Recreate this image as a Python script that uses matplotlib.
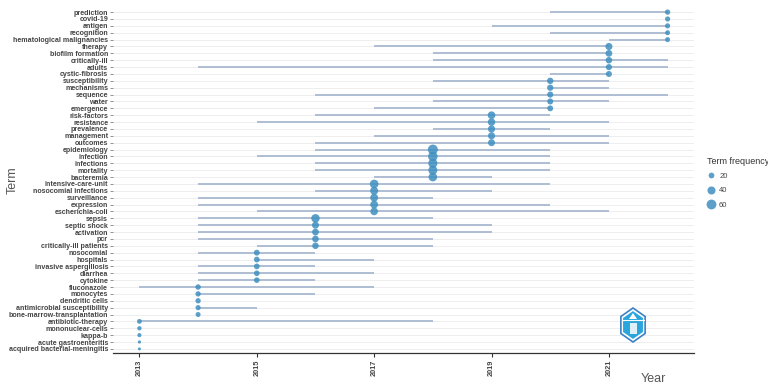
import numpy as np
import matplotlib.pyplot as plt
from matplotlib.lines import Line2D
from matplotlib.patches import Polygon

plt.rcParams['font.family'] = ['Liberation Sans', 'DejaVu Sans']

# terms listed top to bottom, with first quartile / median / third quartile year and frequency
terms = ['prediction', 'covid-19', 'antigen', 'recognition', 'hematological malignancies',
         'therapy', 'biofilm formation', 'critically-ill', 'adults', 'cystic-fibrosis',
         'susceptibility', 'mechanisms', 'sequence', 'water', 'emergence',
         'risk-factors', 'resistance', 'prevalence', 'management', 'outcomes',
         'epidemiology', 'infection', 'infections', 'mortality', 'bacteremia',
         'intensive-care-unit', 'nosocomial infections', 'surveillance', 'expression', 'escherichia-coli',
         'sepsis', 'septic shock', 'activation', 'pcr', 'critically-ill patients',
         'nosocomial', 'hospitals', 'invasive aspergillosis', 'diarrhea', 'cytokine',
         'fluconazole', 'monocytes', 'dendritic cells', 'antimicrobial susceptibility', 'bone-marrow-transplantation',
         'antibiotic-therapy', 'mononuclear-cells', 'kappa-b', 'acute gastroenteritis', 'acquired bacterial-meningitis']
year_q1 = [2020, 2022, 2019, 2020, 2021,
           2017, 2018, 2018, 2014, 2020,
           2018, 2020, 2016, 2018, 2017,
           2016, 2015, 2018, 2017, 2016,
           2016, 2015, 2016, 2016, 2017,
           2014, 2016, 2014, 2014, 2015,
           2014, 2014, 2014, 2014, 2015,
           2014, 2015, 2014, 2014, 2014,
           2013, 2014, 2014, 2014, 2014,
           2013, 2013, 2013, 2013, 2013]
year_med = [2022] * 5 + [2021] * 5 + [2020] * 5 + [2019] * 5 + [2018] * 5 + \
           [2017] * 5 + [2016] * 5 + [2015] * 5 + [2014] * 5 + [2013] * 5
year_q3 = [2022, 2022, 2022, 2022, 2022,
           2021, 2021, 2022, 2022, 2021,
           2021, 2021, 2022, 2021, 2020,
           2020, 2021, 2020, 2021, 2021,
           2020, 2020, 2020, 2020, 2019,
           2020, 2019, 2018, 2020, 2021,
           2018, 2019, 2019, 2018, 2018,
           2016, 2017, 2016, 2017, 2016,
           2017, 2016, 2014, 2015, 2014,
           2018, 2013, 2013, 2013, 2013]
freq = [17, 16, 16, 15, 15,
        31, 28, 26, 23, 22,
        25, 24, 23, 22, 21,
        36, 34, 32, 31, 30,
        62, 56, 52, 50, 46,
        46, 40, 38, 37, 36,
        44, 30, 28, 27, 26,
        21, 20, 20, 19, 19,
        18, 17, 17, 16, 15,
        14, 11, 10, 6, 5]
legend_freq = [20, 40, 60]
year_ticks = [2013, 2015, 2017, 2019, 2021]

fmin, fmax = min(freq), max(freq)


def marker_area(f):
    # area scaled size, diameter about 3 px .. 10 px
    d_px = np.sqrt(9 + 91 * (np.asarray(f, dtype=float) - fmin) / (fmax - fmin))
    return (d_px * 0.72) ** 2


n = len(terms)
ypos = np.arange(n)[::-1]

fig = plt.figure(figsize=(7.68, 3.85), dpi=100)
ax = fig.add_axes([113 / 768, 1 - 353 / 385, 581 / 768, 345 / 385])

for y in ypos:
    ax.axhline(y, color='#ebebeb', lw=0.6, zorder=0)

ax.hlines(ypos, year_q1, year_q3, color='#a9b9d0', lw=1.3, zorder=1)
ax.scatter(year_med, ypos, s=marker_area(freq), color='#3f8fc0', alpha=0.85,
           edgecolors='none', zorder=2)

ax.set_xlim(2012.55, 2022.45)
ax.set_ylim(-0.6, n - 0.4)
ax.set_yticks(ypos)
ax.set_yticklabels(terms, fontsize=5.1, fontweight='bold', color='#444444')
ax.set_xticks(year_ticks)
ax.set_xticklabels([str(y) for y in year_ticks], rotation=90, fontsize=5.3,
                   fontweight='bold', color='#444444')
ax.tick_params(axis='y', length=2, width=0.5, color='#666666', pad=1.5)
ax.tick_params(axis='x', length=3, width=0.8, color='#333333', pad=2)
for side in ['top', 'right', 'left']:
    ax.spines[side].set_visible(False)
ax.spines['bottom'].set_color('#333333')
ax.spines['bottom'].set_linewidth(0.9)

fig.text(13 / 768, 1 - 180 / 385, 'Term', rotation=90, fontsize=9, color='#555555',
         ha='center', va='center')
fig.text(666 / 768, 1 - 379 / 385, 'Year', fontsize=9, color='#555555',
         ha='right', va='center')

# legend
handles = [Line2D([], [], ls='none', marker='o', color='#3f8fc0', alpha=0.85,
                  markeredgecolor='none', markersize=np.sqrt(a))
           for a in marker_area(legend_freq)]
leg = ax.legend(handles, [str(f) for f in legend_freq], title='Term frequency',
                loc='upper left', bbox_to_anchor=(700 / 768, 1 - 150 / 385),
                bbox_transform=fig.transFigure, frameon=False, fontsize=5.5,
                title_fontsize=6.5, handletextpad=0.6, labelspacing=0.9,
                alignment='left', handlelength=1.0)
leg.get_title().set_color('#333333')
for t in leg.get_texts():
    t.set_color('#444444')

# hexagon logo, bottom right of the panel
cx, cy, rx, ry = 633, 325, 14, 17
ang = np.deg2rad(np.arange(90, 450, 60))
outer = np.c_[(cx + rx * np.cos(ang)) / 768, 1 - (cy - ry * np.sin(ang)) / 385]
inner = np.c_[(cx + 0.82 * rx * np.cos(ang)) / 768, 1 - (cy - 0.82 * ry * np.sin(ang)) / 385]
fig.patches.append(Polygon(outer, closed=True, transform=fig.transFigure,
                           facecolor='white', edgecolor='#3b82c4', lw=1.2))
fig.patches.append(Polygon(inner, closed=True, transform=fig.transFigure,
                           facecolor='#2aa6dc', edgecolor='none'))
fig.lines.append(Line2D([(cx - 11) / 768, (cx + 11) / 768], [1 - (cy - 5) / 385] * 2,
                        transform=fig.transFigure, color='white', lw=0.8))
fig.patches.append(Polygon(np.c_[[(cx - 4) / 768, cx / 768, (cx + 4) / 768],
                                 [1 - (cy - 6) / 385, 1 - (cy - 12) / 385, 1 - (cy - 6) / 385]],
                           closed=True, transform=fig.transFigure, facecolor='white',
                           edgecolor='none'))
fig.patches.append(Polygon(np.c_[[(cx - 3) / 768, (cx + 4) / 768, (cx + 4) / 768, (cx - 3) / 768],
                                 [1 - (cy - 2) / 385, 1 - (cy - 2) / 385, 1 - (cy + 9) / 385, 1 - (cy + 9) / 385]],
                           closed=True, transform=fig.transFigure, facecolor='white',
                           edgecolor='none', alpha=0.85))

fig.savefig('out.png', dpi=100)
